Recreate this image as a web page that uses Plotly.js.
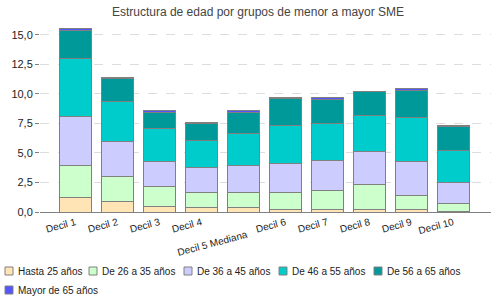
<!DOCTYPE html>
<html>
<head>
<meta charset="utf-8">
<script src="https://cdn.plot.ly/plotly-3.0.1.min.js"></script>
<style>
  html, body { margin: 0; padding: 0; background: #fff; }
  #chart { width: 500px; height: 300px; }
</style>
</head>
<body>
<div id="chart"></div>
<script>
const deciles = ['Decil 1', 'Decil 2', 'Decil 3', 'Decil 4', 'Decil 5 Mediana',
                 'Decil 6', 'Decil 7', 'Decil 8', 'Decil 9', 'Decil 10'];
const tickLabels = ['Decil 1', 'Decil 2', 'Decil 3', 'Decil 4', '<br>Decil 5 Mediana',
                    'Decil 6', 'Decil 7', 'Decil 8', 'Decil 9', 'Decil 10'];

const hasta25 = [1.27, 0.93, 0.47, 0.34, 0.34, 0.25, 0.25, 0.25, 0.17, 0.02];
const de26a35 = [2.71, 2.12, 1.65, 1.35, 1.35, 1.44, 1.61, 2.04, 1.24, 0.74];
const de36a45 = [4.07, 2.93, 2.17, 2.04, 2.21, 2.46, 2.51, 2.85, 2.83, 1.70];
const de46a55 = [4.92, 3.42, 2.80, 2.34, 2.79, 3.22, 3.14, 3.05, 3.78, 2.71];
const de56a65 = [2.42, 1.92, 1.35, 1.47, 1.75, 2.26, 2.03, 1.98, 2.26, 2.08];
const mayor65 = [0.15, 0.10, 0.14, 0.08, 0.14, 0.10, 0.12, 0.04, 0.15, 0.10];

const seriesNames = ['Hasta 25 años', 'De 26 a 35 años', 'De 36 a 45 años',
                     'De 46 a 55 años', 'De 56 a 65 años', 'Mayor de 65 años'];
const seriesData = [hasta25, de26a35, de36a45, de46a55, de56a65, mayor65];
const colors = ['#FFE4B5', '#CCFFCC', '#CCCCFF', '#00CCCC', '#009999', '#5555FF'];

// legend entry spots in page pixels (left of swatch, middle of row)
const legendLeft = [5, 89, 184, 279, 374, 5];
const legendMid = [271, 271, 271, 271, 271, 290];

const W = 500, H = 300;
const margin = { l: 40, r: 9, t: 26, b: 88 };
const plotW = W - margin.l - margin.r;
const plotH = H - margin.t - margin.b;
const toPaperX = px => (px - margin.l) / plotW;
const toPaperY = py => (H - margin.b - py) / plotH;

const traces = seriesData.map((vals, i) => ({
    type: 'bar',
    x: deciles,
    y: vals,
    name: seriesNames[i],
    marker: { color: colors[i], line: { color: '#808080', width: 1 } },
    hoverinfo: 'none',
    showlegend: false
}));

// legend built by hand so that entries sit like the original
const shapes = [];
const annotations = [];
seriesNames.forEach((name, i) => {
    shapes.push({
        type: 'rect', xref: 'paper', yref: 'paper',
        x0: toPaperX(legendLeft[i]), x1: toPaperX(legendLeft[i] + 8),
        y0: toPaperY(legendMid[i] + 4), y1: toPaperY(legendMid[i] - 4),
        fillcolor: colors[i],
        line: { color: '#808080', width: 1 }
    });
    annotations.push({
        xref: 'paper', yref: 'paper',
        x: toPaperX(legendLeft[i] + 11), y: toPaperY(legendMid[i]),
        xanchor: 'left', yanchor: 'middle',
        text: name, showarrow: false,
        font: { size: 10, color: '#222' }
    });
});

const layout = {
    width: W,
    height: H,
    barmode: 'stack',
    bargap: 0.24,
    separators: ',.',
    paper_bgcolor: '#fff',
    plot_bgcolor: '#fff',
    font: { family: 'Liberation Sans, Arial, sans-serif', size: 10, color: '#333' },
    title: {
        text: 'Estructura de edad por grupos de menor a mayor SME',
        font: { size: 12, color: '#444' },
        x: 0.516, xanchor: 'center', y: 0.96, yanchor: 'middle'
    },
    margin: margin,
    xaxis: {
        type: 'category',
        range: [-0.84, 9.9],
        tickvals: deciles,
        ticktext: tickLabels,
        tickangle: -15,
        tickfont: { size: 10, color: '#222' },
        showline: true,
        linecolor: '#808080',
        linewidth: 1,
        ticks: '',
        showgrid: false,
        automargin: false
    },
    yaxis: {
        range: [0, 15.76],
        dtick: 2.5,
        tickformat: '.1f',
        ticks: 'outside',
        ticklen: 4,
        tickcolor: '#808080',
        tickfont: { size: 11, color: '#222' },
        showgrid: true,
        gridcolor: '#dddddd',
        griddash: 'dash',
        zeroline: false,
        showline: false,
        automargin: false
    },
    shapes: shapes,
    annotations: annotations,
    showlegend: false
};

Plotly.newPlot('chart', traces, layout, { displayModeBar: false, staticPlot: true });
</script>
</body>
</html>
